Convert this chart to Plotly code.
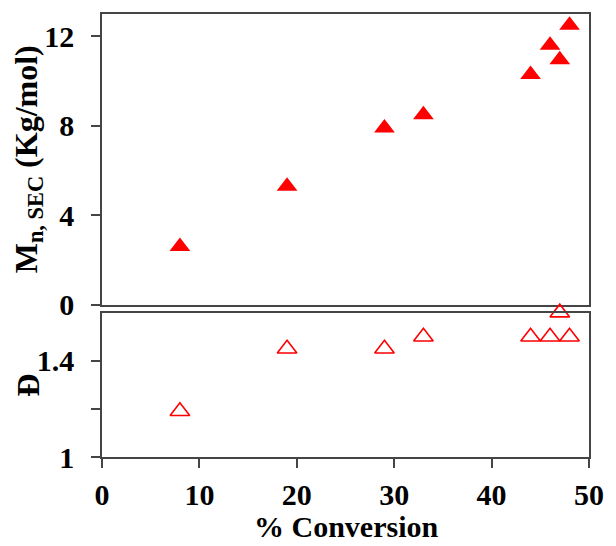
import plotly.graph_objects as go

conversion = [8, 19, 29, 33, 44, 46, 47, 48]
mn_sec = [2.6, 5.3, 7.9, 8.5, 10.3, 11.6, 10.95, 12.5]
dispersity = [1.19, 1.45, 1.45, 1.50, 1.50, 1.50, 1.60, 1.50]

x_ticks = [0, 10, 20, 30, 40, 50]
mn_ticks = [0, 4, 8, 12]
d_ticks = [1, 1.4]
d_minor_ticks = [1.2]

FONT = "Liberation Serif"
LINE = "#454545"

fig = go.Figure()
fig.add_trace(go.Scatter(
    x=conversion, y=mn_sec, mode="markers", xaxis="x", yaxis="y",
    marker=dict(symbol="triangle-up", size=18, color="#FF0000", line=dict(width=0)),
    cliponaxis=False, showlegend=False))
fig.add_trace(go.Scatter(
    x=conversion, y=dispersity, mode="markers", xaxis="x2", yaxis="y2",
    marker=dict(symbol="triangle-up-open", size=17, color="#FF0000", line=dict(width=1.6, color="#FF0000")),
    cliponaxis=False, showlegend=False))

tickfont = dict(family=FONT, size=30, color="black", weight="bold")
axis_common = dict(showline=True, linecolor=LINE, linewidth=1.6, mirror=True,
                   showgrid=False, zeroline=False)

fig.update_layout(
    width=616, height=546,
    margin=dict(l=102, r=18, t=12, b=89),
    paper_bgcolor="white", plot_bgcolor="white",
    xaxis=dict(domain=[0, 1], anchor="y", range=[0, 50], showticklabels=False,
               ticks="", **axis_common),
    yaxis=dict(domain=[0.3438, 1], anchor="x", range=[0, 13], tickvals=mn_ticks,
               ticks="outside", ticklen=9, tickwidth=1.6, tickcolor=LINE,
               tickfont=tickfont, ticklabelstandoff=11, **axis_common),
    xaxis2=dict(domain=[0, 1], anchor="y2", range=[0, 50], tickvals=x_ticks,
                ticks="outside", ticklen=9, tickwidth=1.6, tickcolor=LINE,
                tickfont=tickfont, ticklabelstandoff=1, **axis_common),
    yaxis2=dict(domain=[0, 0.3258], anchor="x2", range=[1, 1.6], tickvals=d_ticks,
                ticks="outside", ticklen=9, tickwidth=1.6,
                tickcolor=LINE, tickfont=tickfont, ticklabelstandoff=11,
                minor=dict(tickvals=d_minor_ticks, ticks="outside", ticklen=9,
                           tickwidth=1.6, tickcolor=LINE, showgrid=False),
                **axis_common),
    annotations=[
        dict(text="M<sub>n, SEC</sub> (Kg/mol)", xref="paper", yref="paper",
             x=-0.152, y=(0.3438 + 1) / 2, xanchor="center", yanchor="middle",
             textangle=-90, showarrow=False,
             font=dict(family=FONT, size=32, color="black", weight="bold")),
        dict(text="Đ", xref="paper", yref="paper",
             x=-0.152, y=0.3258 / 2, xanchor="center", yanchor="middle",
             textangle=-90, showarrow=False,
             font=dict(family=FONT, size=32, color="black", weight="bold")),
        dict(text="% Conversion", xref="paper", yref="paper",
             x=0.5, y=-0.158, xanchor="center", yanchor="middle", showarrow=False,
             font=dict(family=FONT, size=30, color="black", weight="bold")),
    ],
)

fig.write_html("out.html")
